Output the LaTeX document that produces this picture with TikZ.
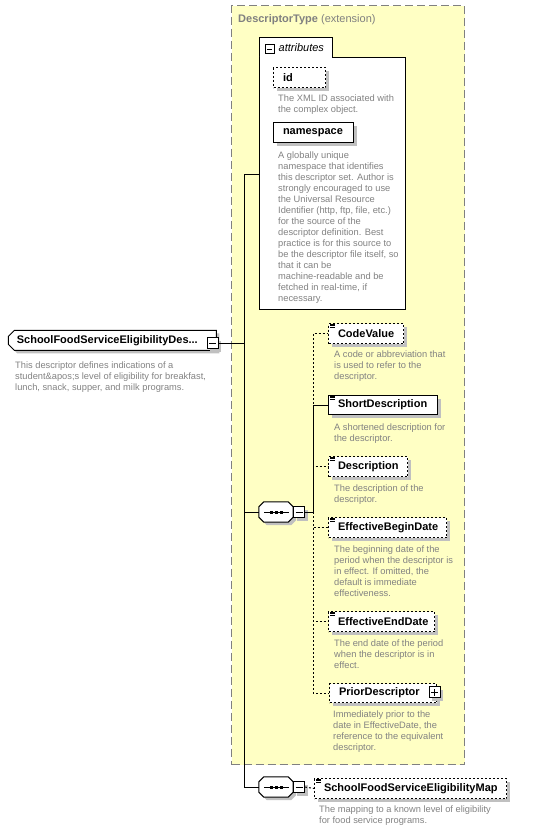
\documentclass[tikz,border=0pt]{standalone}
\usepackage{fontspec}
\setmainfont{Liberation Sans}
\usetikzlibrary{shadows,shapes.misc}
\definecolor{yel}{RGB}{255,255,196}
\definecolor{bordergray}{RGB}{128,128,128}
\definecolor{desccol}{RGB}{130,130,130}
\definecolor{shad}{RGB}{192,192,192}
\newcommand\elt[2]{\makebox[#1pt][l]{\hspace{9.5pt}#2}}
\newcommand\elicon[1]{\foreach \d in {1,2.5,4}{\draw[line width=0.6pt] ([shift={(2,\d)}]#1.north west) -- ++(5,0);}}
\newcommand\octpath[1]{([xshift=5pt]#1.north west) -- ([xshift=-5pt]#1.north east) -- ([yshift=-5pt]#1.north east) -- ([yshift=5pt]#1.south east) -- ([xshift=-5pt]#1.south east) -- ([xshift=5pt]#1.south west) -- ([yshift=5pt]#1.south west) -- ([yshift=-5pt]#1.north west) -- cycle}
\newcommand\octa[1]{%
  \fill[shad, transform canvas={xshift=3pt,yshift=-3pt}] \octpath{#1};
  \draw[fill=white, line width=1pt] \octpath{#1};
  \draw[line width=1pt] ([xshift=-12pt]#1.center) -- ([xshift=13pt]#1.center);
  \foreach \dx in {-5,0,5} \fill ([xshift=\dx pt]#1.center) ++(-1.5,-1.5) rectangle ++(3,3);}
\begin{document}
\begin{tikzpicture}[x=1pt,y=-1pt,
  conn/.style={line width=1pt, black},
  optconn/.style={conn, dash pattern=on 2pt off 2pt},
  sh/.style={drop shadow={shadow xshift=3pt, shadow yshift=-3pt, fill=shad, opacity=1}},
  elem/.style={draw=black, fill=white, line width=1pt, minimum height=20pt, inner sep=0pt,
    font=\fontsize{11}{12}\bfseries\selectfont, anchor=north west, sh},
  optelem/.style={elem, dash pattern=on 2pt off 2pt},
  desc/.style={anchor=north west, inner sep=0pt, align=left, text=desccol,
    font=\fontsize{9.3}{11}\selectfont},
  toggle/.style={draw=black, fill=white, line width=1pt, minimum size=11pt, inner sep=0pt, sh},
  seq/.style={draw=none, minimum width=34pt, minimum height=20pt, inner sep=0pt},
  panel/.style={draw=black, fill=white, line width=1pt, inner sep=0pt, anchor=north west},
]
\useasboundingbox (0,0) rectangle (534,831);

% extension box
\node[draw=bordergray, fill=yel, line width=1.2pt, dash pattern=on 8pt off 4pt,
  minimum width=233pt, minimum height=759pt, anchor=north west, inner sep=0pt] (ext) at (231,5) {};
\node[anchor=base west, inner sep=0pt, text=bordergray, font=\fontsize{11}{12}\selectfont] (title) at (238,22.5)
  {\textbf{DescriptorType} (extension)};

% attributes panel
\node[panel, minimum width=146pt, minimum height=252pt] (attr) at (259,57) {};
\node[panel, minimum width=73pt, minimum height=19pt, anchor=south west] (tab) at (attr.north west) {};
\draw[white, line width=1.2pt] ([xshift=0.6pt]tab.south west) -- ([xshift=-0.6pt]tab.south east);
\node[draw=black, fill=white, line width=0.8pt, minimum size=9pt, inner sep=0pt] (amin) at (269.5,49) {};
\draw[line width=0.8pt] ([xshift=-2.5pt]amin.center) -- ([xshift=2.5pt]amin.center);
\node[anchor=west, inner sep=0pt, font=\fontsize{11}{12}\itshape\selectfont] (atext) at (278.5,48) {attributes};

\node[optelem] (id) at (273,67) {\elt{52}{id}};
\node[desc] (iddesc) at (278,94.7) {The XML ID associated with\\the complex object.};
\node[elem] (ns) at (273,122) {\elt{80}{namespace}};
\node[desc] (nsdesc) at (278,151.5) {A globally unique\\namespace that identifies\\this descriptor set. Author is\\strongly encouraged to use\\the Universal Resource\\Identifier (http, ftp, file, etc.)\\for the source of the\\descriptor definition. Best\\practice is for this source to\\be the descriptor file itself, so\\that it can be\\machine-readable and be\\fetched in real-time, if\\necessary.};

% root element
\node[chamfered rectangle, chamfered rectangle corners={north west,south west},
  chamfered rectangle xsep=3pt, chamfered rectangle ysep=3pt,
  draw=black, fill=white, line width=1pt, minimum width=202pt, minimum height=20pt, inner sep=0pt,
  anchor=north west, sh, font=\fontsize{11}{12}\bfseries\selectfont] (root) at (11,333)
  {\makebox[202pt][l]{\hspace{5.5pt}SchoolFoodServiceEligibilityDes...}};
\node[toggle] (rm) at (212.5,343) {};
\draw[line width=1pt] ([xshift=-3.5pt]rm.center) -- ([xshift=3.5pt]rm.center);
\node[desc] (rootdesc) at (15,361.2) {This descriptor defines indications of a\\student\&apos;s level of eligibility for breakfast,\\lunch, snack, supper, and milk programs.};

% sequence 1
\node[seq] (seq1) at (276,512) {};
\octa{seq1}
\node[toggle] (sm1) at (299,512) {};
\draw[line width=1pt] ([xshift=-3.5pt]sm1.center) -- ([xshift=3.5pt]sm1.center);

% sequence 2
\node[seq] (seq2) at (276,787) {};
\octa{seq2}
\node[toggle] (sm2) at (299,787) {};
\draw[line width=1pt] ([xshift=-3.5pt]sm2.center) -- ([xshift=3.5pt]sm2.center);

% children of sequence 1
\node[optelem] (cv) at (328,323) {\elt{75}{CodeValue}};
\elicon{cv}
\node[desc] (cvdesc) at (334,350.9) {A code or abbreviation that\\is used to refer to the\\descriptor.};

\node[elem, minimum height=19pt] (sd) at (328,395) {\elt{109}{ShortDescription}};
\elicon{sd}
\node[desc] (sddesc) at (334,423.2) {A shortened description for\\the descriptor.};

\node[optelem] (de) at (328,456) {\elt{79}{Description}};
\elicon{de}
\node[desc] (dedesc) at (334,484.2) {The description of the\\descriptor.};

\node[optelem] (ebd) at (328,517) {\elt{118}{EffectiveBeginDate}};
\elicon{ebd}
\node[desc] (ebddesc) at (334,545.5) {The beginning date of the\\period when the descriptor is\\in effect. If omitted, the\\default is immediate\\effectiveness.};

\node[optelem] (eed) at (328,611) {\elt{106}{EffectiveEndDate}};
\elicon{eed}
\node[desc] (eeddesc) at (334,639.9) {The end date of the period\\when the descriptor is in\\effect.};

\node[optelem, minimum height=19pt] (pd) at (329,683) {\elt{107}{PriorDescriptor}};
\node[toggle] (pp) at (434.5,692) {};
\draw[line width=1pt] ([xshift=-3.5pt]pp.center) -- ([xshift=3.5pt]pp.center);
\draw[line width=1pt] ([yshift=-3.5pt]pp.center) -- ([yshift=3.5pt]pp.center);
\node[desc] (pddesc) at (333,710.9) {Immediately prior to the\\date in EffectiveDate, the\\reference to the equivalent\\descriptor.};

% map
\node[optelem] (map) at (314,778) {\elt{192}{SchoolFoodServiceEligibilityMap}};
\elicon{map}
\node[desc] (mapdesc) at (319,805.9) {The mapping to a known level of eligibility\\for food service programs.};

% connectors
\coordinate (j) at (244,343);
\coordinate (ain) at (259,174);
\coordinate (s1) at (313,512);
\draw[conn] (rm.east) -- (j);
\draw[conn] (j) |- (ain);
\draw[conn] (j) |- (seq1.west);
\draw[conn] (j) |- (seq2.west);
\draw[conn] (sm1.east) -- (s1);
\draw[conn] (s1) |- (sd.west);
\draw[optconn] (s1) |- (cv.west);
\draw[optconn] (s1) |- (de.west);
\draw[optconn] (s1) |- (ebd.west);
\draw[optconn] (s1) |- (eed.west);
\draw[optconn] (s1) |- (pd.west);
\draw[optconn] (sm2.east) -- (map.west);
\end{tikzpicture}
\end{document}
